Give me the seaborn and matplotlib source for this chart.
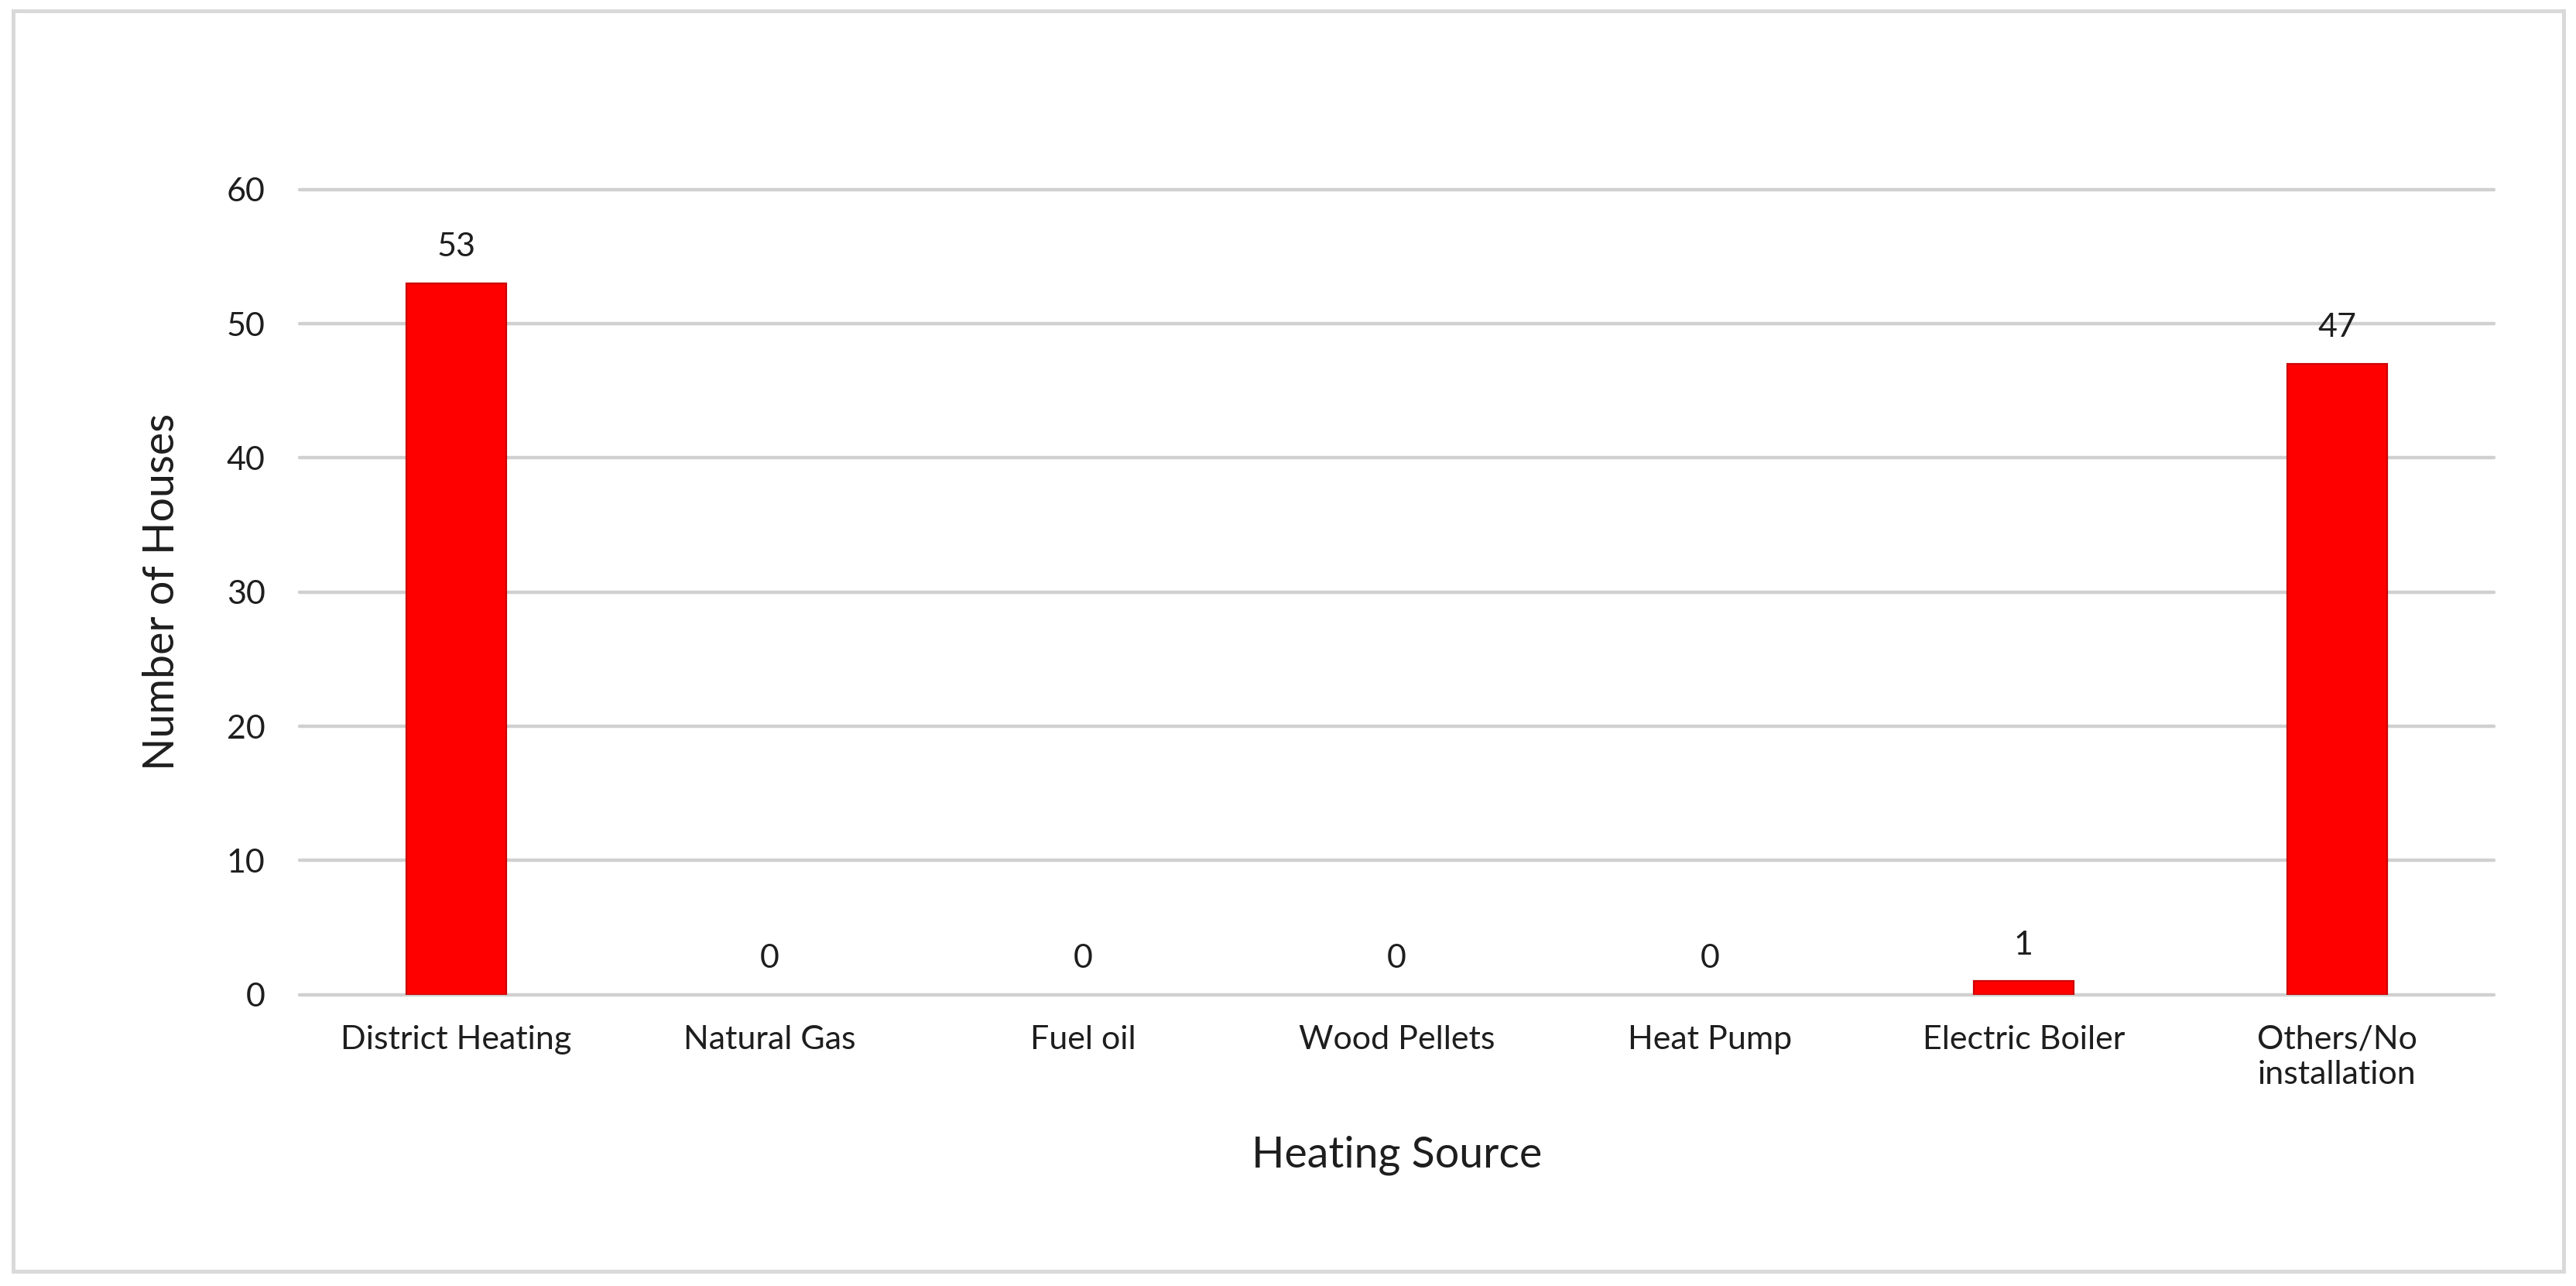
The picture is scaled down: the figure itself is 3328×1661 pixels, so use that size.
import numpy as np
import pandas as pd
import matplotlib
matplotlib.use("Agg")
import matplotlib.pyplot as plt
import seaborn as sns
from matplotlib.patches import Rectangle

# data
sources = ["District Heating", "Natural Gas", "Fuel oil", "Wood Pellets",
           "Heat Pump", "Electric Boiler", "Others/No\ninstallation"]
houses = [53, 0, 0, 0, 0, 1, 47]
y_ticks = [0, 10, 20, 30, 40, 50, 60]

sns.set_style("white")
plt.rcParams["font.family"] = ["Lato", "DejaVu Sans"]

df = pd.DataFrame({"source": sources, "houses": houses})

fig = plt.figure(figsize=(16.64, 8.305), dpi=200)
ax = fig.add_axes([0.1163, 0.2265, 0.8518, 0.6262])

grid_col = "#d0d0d0"
text_col = "#1e1e1e"

sns.barplot(data=df, x="source", y="houses", color="#ff0000", saturation=1,
            width=0.32, edgecolor="#cc0000", linewidth=0.8, ax=ax, zorder=2)

# empty categories get no outline sliver
for bar in ax.patches:
    if bar.get_height() == 0:
        bar.set_linewidth(0)

ax.set_ylim(0, 60)
ax.set_yticks(y_ticks)
ax.yaxis.grid(True, color=grid_col, linewidth=1.6)
ax.xaxis.grid(False)
ax.set_axisbelow(True)
for gl in ax.get_ygridlines():
    gl.set_clip_on(False)
    gl.set_zorder(0.5)
for side in ["top", "right", "left", "bottom"]:
    ax.spines[side].set_visible(False)

ax.tick_params(axis="x", length=0, pad=14, labelsize=15.5, colors=text_col)
ax.tick_params(axis="y", length=0, pad=16, labelsize=15.5, colors=text_col)
for lbl in ax.get_xticklabels():
    lbl.set_linespacing(1.25)

ax.bar_label(ax.containers[0], labels=[str(v) for v in houses], padding=10,
             fontsize=15.5, color=text_col)

ax.set_xlabel("Heating Source", fontsize=20, color=text_col, va="baseline")
ax.xaxis.set_label_coords(0.5, -0.2138)
ax.set_ylabel("Number of Houses", fontsize=20, color=text_col)
ax.yaxis.set_label_coords(-0.0536, 0.5)

# light grey frame around the whole chart
fig.patches.append(Rectangle((0.0051, 0.0114), 0.9901, 0.9802,
                             transform=fig.transFigure, fill=False,
                             edgecolor="#d9d9d9", linewidth=1.8))

fig.savefig("out.png", dpi=200, facecolor="white")
